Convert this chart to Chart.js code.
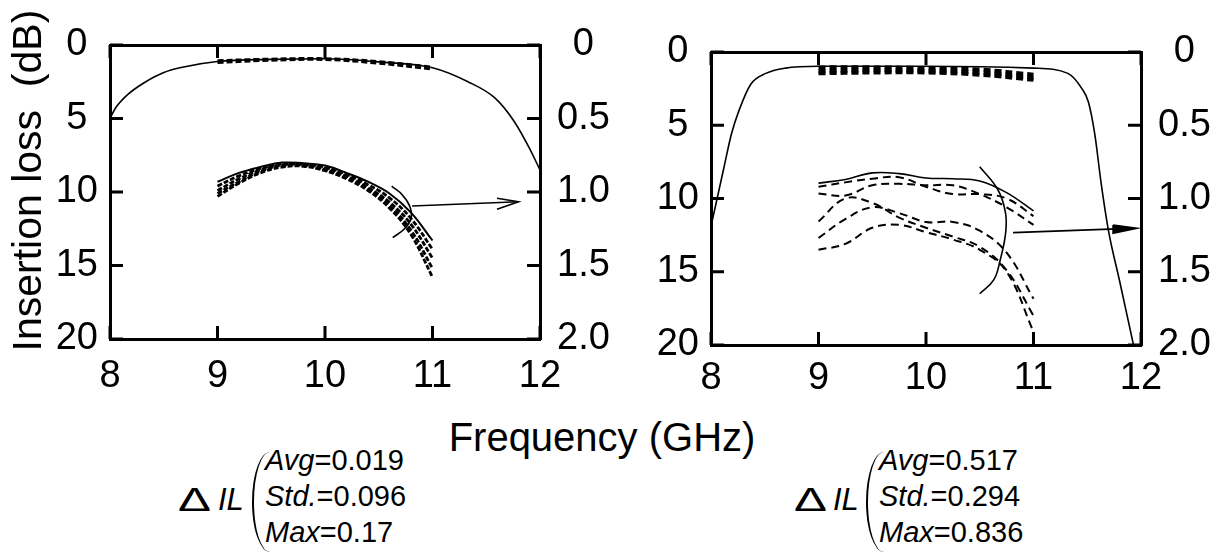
<!DOCTYPE html>
<html>
<head>
<meta charset="utf-8">
<title>Insertion loss</title>
<script src="https://cdn.jsdelivr.net/npm/chart.js@4.4.1/dist/chart.umd.min.js"></script>
<style>
  body { margin: 0; background: #fff; width: 1220px; height: 556px; position: relative; overflow: hidden;
         font-family: "Liberation Sans", Arial, Helvetica, sans-serif; color: #000; }
  canvas { position: absolute; top: 0; }
  #chartLeft { left: 0; }
  #chartRight { left: 610px; }
  .txt { position: absolute; white-space: nowrap; }
  .xtitle { left: 402px; width: 400px; top: 417px; text-align: center; font-size: 40px; line-height: 40px; }
  .delta { font-size: 34px; line-height: 34px; transform: scaleX(1.45); transform-origin: left top; }
  .il { font-size: 31px; line-height: 31px; font-style: italic; }
  .stat { font-size: 29px; line-height: 29px; }
  .stat i { font-style: italic; }
  .brace { position: absolute; width: 16px; height: 100px; top: 452px;
           border-left: 2px solid #000; border-radius: 18px 0 0 18px / 50px 0 0 50px; }
</style>
</head>
<body>
<canvas id="chartLeft" width="610" height="400"></canvas>
<canvas id="chartRight" width="610" height="400"></canvas>

<div class="txt xtitle">Frequency (GHz)</div>

<div class="txt delta" style="left:178px; top:482px;">Δ</div>
<div class="txt il" style="left:218px; top:484px;">IL</div>
<div class="brace" style="left:252px;"></div>
<div class="txt stat" style="left:265px; top:446px;"><i>Avg</i>=0.019</div>
<div class="txt stat" style="left:265px; top:482px;"><i>Std.</i>=0.096</div>
<div class="txt stat" style="left:265px; top:518px;"><i>Max</i>=0.17</div>

<div class="txt delta" style="left:794px; top:482px;">Δ</div>
<div class="txt il" style="left:833px; top:484px;">IL</div>
<div class="brace" style="left:866px;"></div>
<div class="txt stat" style="left:879px; top:446px;"><i>Avg</i>=0.517</div>
<div class="txt stat" style="left:879px; top:482px;"><i>Std.</i>=0.294</div>
<div class="txt stat" style="left:879px; top:518px;"><i>Max</i>=0.836</div>

<script>
const FONT = '"Liberation Sans", Arial, Helvetica, sans-serif';

// axis ticks
const freqTicks = [8, 9, 10, 11, 12];
const lossTicks = [0, 5, 10, 15, 20];
const ratioTicks = [0, 0.5, 1.0, 1.5, 2.0];
const ratioTickLabels = ["0", "0.5", "1.0", "1.5", "2.0"];

// ---- left panel ----
// simulated insertion loss (dB, left axis)
const freqSimL = [8.0, 8.05, 8.16, 8.31, 8.49, 8.71, 9.0, 9.5, 10.0, 10.5, 11.0, 11.33, 11.58, 11.76, 11.9, 12.0];
const lossSimL = [5.0, 4.3, 3.4, 2.6, 1.9, 1.46, 1.12, 0.98, 0.94, 1.15, 1.55, 2.5, 3.6, 5.2, 7.0, 8.5];
// measured insertion loss (dB)
const freqMeasL = [9.0, 9.5, 10.0, 10.5, 11.0];
const lossMeasL1 = [1.05, 0.95, 0.92, 1.12, 1.5];
const lossMeasL2 = [1.2, 1.05, 1.0, 1.25, 1.65];
// zoomed loss (right axis)
const freqZoomL = [9.0, 9.2, 9.4, 9.6, 9.8, 10.0, 10.2, 10.4, 10.6, 10.8, 11.0];
const zoomL1 = [0.93, 0.87, 0.83, 0.80, 0.805, 0.82, 0.87, 0.93, 1.01, 1.14, 1.33];
const zoomL2 = [0.96, 0.89, 0.84, 0.81, 0.81, 0.83, 0.88, 0.95, 1.04, 1.18, 1.39];
const zoomL3 = [0.99, 0.91, 0.85, 0.815, 0.815, 0.84, 0.89, 0.97, 1.07, 1.22, 1.45];
const zoomL4 = [1.01, 0.93, 0.86, 0.82, 0.82, 0.85, 0.90, 0.98, 1.09, 1.26, 1.52];
const zoomL5 = [1.03, 0.94, 0.87, 0.83, 0.825, 0.855, 0.91, 0.99, 1.11, 1.29, 1.58];
// marker arc and arrow (dB)
const arcLx = [10.62, 10.72, 10.79, 10.8, 10.74, 10.63];
const arcLy = [9.6, 10.2, 11.0, 11.8, 12.5, 13.1];
const arrowLx = [10.81, 11.8];
const arrowLy = [10.95, 10.66];
const headLx = [11.6, 11.8, 11.6];
const headLy = [10.43, 10.66, 11.18];

// ---- right panel ----
const freqSimR = [8.0, 8.06, 8.12, 8.19, 8.26, 8.37, 8.51, 8.69, 9.0, 10.0, 11.0, 11.32, 11.45, 11.51, 11.57, 11.63, 11.7, 11.8, 11.93];
const lossSimR = [11.9, 9.9, 7.9, 5.6, 4.0, 2.2, 1.46, 1.1, 0.97, 0.97, 1.1, 1.46, 2.5, 3.4, 5.6, 9.0, 12.3, 15.6, 20];
const freqMeasR = [9.0, 9.5, 10.0, 10.5, 11.0];
const lossMeasR1 = [1.05, 1.05, 1.1, 1.2, 1.55];
const lossMeasR2 = [1.3, 1.25, 1.3, 1.4, 1.75];
const lossMeasR3 = [1.45, 1.4, 1.4, 1.55, 1.9];
const freqZoomR = [9.0, 9.25, 9.5, 9.75, 10.0, 10.25, 10.5, 10.75, 11.0];
const zoomR0 = [0.895, 0.87, 0.825, 0.83, 0.86, 0.865, 0.88, 0.96, 1.085];
const zoomR1 = [0.92, 0.89, 0.865, 0.855, 0.92, 0.97, 0.97, 1.0, 1.12];
const zoomR2 = [0.966, 0.98, 0.91, 0.9, 0.91, 0.91, 0.97, 1.06, 1.18];
const zoomR3 = [1.157, 1.0, 1.03, 1.13, 1.2, 1.26, 1.33, 1.49, 1.8];
const zoomR4 = [1.27, 1.14, 1.06, 1.1, 1.16, 1.16, 1.22, 1.37, 1.685];
const zoomR5 = [1.35, 1.31, 1.2, 1.18, 1.23, 1.28, 1.35, 1.5, 1.91];
const arcRx = [10.5, 10.67, 10.74, 10.74, 10.69, 10.63, 10.5];
const arcRy = [7.83, 9.42, 11.0, 12.4, 14.2, 15.56, 16.5];
const arrowRx = [10.81, 11.9];
const arrowRy = [12.33, 12.04];
const headRx = [11.74, 11.96, 11.74, 11.74];
const headRy = [11.81, 12.03, 12.38, 11.81];

const pts = (xs, ys) => xs.map((x, i) => ({ x: x, y: ys[i] }));

function line(xs, ys, axis, style) {
  return Object.assign({
    data: pts(xs, ys),
    xAxisID: "x",
    yAxisID: axis,
    borderColor: "#000",
    backgroundColor: "#000",
    borderWidth: 1.6,
    pointRadius: 0,
    fill: false,
    tension: 0.4
  }, style);
}

// tick marks pointing into the plot, on all four sides
const innerTicks = {
  id: "innerTicks",
  afterDatasetsDraw(chart) {
    const ctx = chart.ctx;
    const a = chart.chartArea;
    const len = 13;
    ctx.save();
    ctx.strokeStyle = "#000";
    ctx.lineWidth = 3;
    ctx.beginPath();
    Object.values(chart.scales).forEach(s => {
      s.ticks.forEach(t => {
        const p = s.getPixelForValue(t.value);
        if (s.position === "bottom") { ctx.moveTo(p, a.bottom); ctx.lineTo(p, a.bottom - len); }
        if (s.position === "top") { ctx.moveTo(p, a.top); ctx.lineTo(p, a.top + len); }
        if (s.position === "left") { ctx.moveTo(a.left, p); ctx.lineTo(a.left + len, p); }
        if (s.position === "right") { ctx.moveTo(a.right, p); ctx.lineTo(a.right - len, p); }
      });
    });
    ctx.stroke();
    ctx.restore();
  }
};

function makeScales(box) {
  const tickFont = { family: FONT, size: 38 };
  const noGrid = { display: false, drawTicks: false };
  const frame = { display: true, color: "#000", width: 3 };
  const setTicks = vals => s => { s.ticks = vals.map(v => ({ value: v })); };
  return {
    x: {
      type: "linear", position: "bottom", min: 8, max: 12,
      afterBuildTicks: setTicks(freqTicks),
      afterFit: s => { s.height = box.bottom; },
      ticks: { font: tickFont, color: "#000", padding: box.xPad, maxRotation: 0, autoSkip: false },
      grid: noGrid, border: frame
    },
    xTop: {
      type: "linear", position: "top", min: 8, max: 12,
      afterBuildTicks: setTicks(freqTicks),
      afterFit: s => { s.height = box.top; },
      ticks: { display: false },
      grid: noGrid, border: frame
    },
    y: {
      type: "linear", position: "left", min: 0, max: 20, reverse: true,
      afterBuildTicks: setTicks(lossTicks),
      afterFit: s => { s.width = box.left; },
      ticks: { font: tickFont, color: "#000", padding: 12, crossAlign: "center" },
      grid: noGrid, border: frame,
      title: {
        display: box.title,
        text: "  Insertion loss  (dB)",
        color: "#000",
        font: { family: FONT, size: 41 },
        padding: { top: 5, bottom: 0 }
      }
    },
    y2: {
      type: "linear", position: "right", min: 0, max: 2, reverse: true,
      afterBuildTicks: setTicks(ratioTicks),
      afterFit: s => { s.width = box.right; },
      ticks: {
        font: tickFont, color: "#000", padding: 17, crossAlign: "center",
        callback: (v, i) => ratioTickLabels[i]
      },
      grid: noGrid, border: frame
    }
  };
}

function makeChart(id, datasets, box) {
  return new Chart(document.getElementById(id).getContext("2d"), {
    type: "line",
    data: { datasets: datasets },
    options: {
      responsive: false,
      animation: false,
      devicePixelRatio: 1,
      events: [],
      layout: { padding: 0 },
      plugins: { legend: { display: false }, tooltip: { enabled: false } },
      scales: makeScales(box)
    },
    plugins: [innerTicks]
  });
}

const simStyle = { cubicInterpolationMode: "monotone" };
const measL = { borderWidth: 2.6, borderDash: [6, 3] };
const zoomDashL = { borderWidth: 2.8, borderDash: [5, 2] };
const measR = { borderWidth: 4, borderDash: [7, 4] };
const zoomDashR = { borderWidth: 2, borderDash: [8, 5] };

makeChart("chartLeft", [
  line(freqSimL, lossSimL, "y", simStyle),
  line(freqMeasL, lossMeasL1, "y", measL),
  line(freqMeasL, lossMeasL2, "y", measL),
  line(freqZoomL, zoomL1, "y2", { borderWidth: 2 }),
  line(freqZoomL, zoomL2, "y2", zoomDashL),
  line(freqZoomL, zoomL3, "y2", zoomDashL),
  line(freqZoomL, zoomL4, "y2", zoomDashL),
  line(freqZoomL, zoomL5, "y2", zoomDashL),
  line(arcLx, arcLy, "y", {}),
  line(arrowLx, arrowLy, "y", { tension: 0 }),
  line(headLx, headLy, "y", { tension: 0 })
], { left: 110, right: 70, top: 45, bottom: 61, xPad: 15, title: true });

makeChart("chartRight", [
  line(freqSimR, lossSimR, "y", simStyle),
  line(freqMeasR, lossMeasR1, "y", measR),
  line(freqMeasR, lossMeasR2, "y", measR),
  line(freqMeasR, lossMeasR3, "y", measR),
  line(freqZoomR, zoomR0, "y2", {}),
  line(freqZoomR, zoomR1, "y2", zoomDashR),
  line(freqZoomR, zoomR2, "y2", zoomDashR),
  line(freqZoomR, zoomR3, "y2", zoomDashR),
  line(freqZoomR, zoomR4, "y2", zoomDashR),
  line(freqZoomR, zoomR5, "y2", zoomDashR),
  line(arcRx, arcRy, "y", {}),
  line(arrowRx, arrowRy, "y", { tension: 0 }),
  line(headRx, headRy, "y", { tension: 0, fill: "shape" })
], { left: 101, right: 79, top: 52, bottom: 55, xPad: 11, title: false });
</script>
</body>
</html>
